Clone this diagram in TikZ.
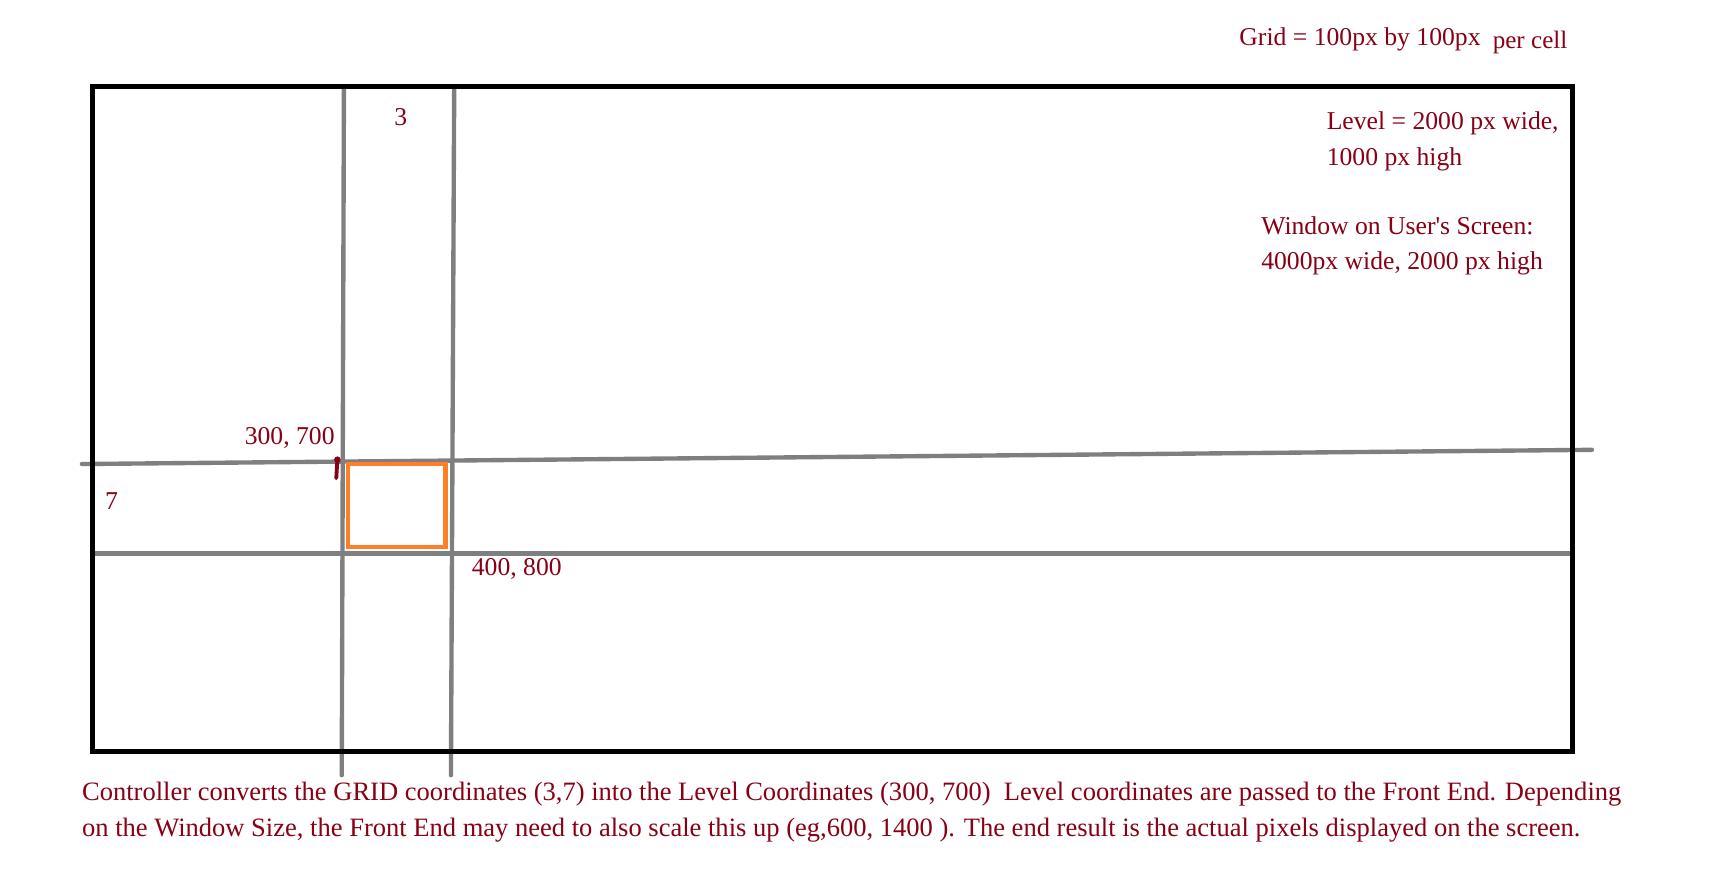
\documentclass[tikz,border=0pt]{standalone}
\usepackage{fontspec}
\setmainfont{Liberation Serif}
\newfontfamily\rawfont{Liberation Serif}
\definecolor{dred}{RGB}{136,0,21}
\definecolor{gline}{RGB}{127,127,127}
\definecolor{orng}{RGB}{255,127,39}
\begin{document}
\begin{tikzpicture}[x=1pt,y=-1pt,
  lbl/.style={text=dred, font=\rawfont\fontsize{23.5}{28}\selectfont, inner sep=0pt, anchor=base west},
  small/.style={text=dred, font=\rawfont\fontsize{23}{27}\selectfont, inner sep=0pt, anchor=base west},
  note/.style={text=dred, font=\rawfont\fontsize{24.3}{29}\selectfont, inner sep=0pt, anchor=base west},
  gridline/.style={draw=gline, line width=4pt, line cap=round},
  frame/.style={draw=black, line width=4.5pt},
  cell/.style={draw=orng, line width=4pt},
  marker/.style={draw=dred, line width=3.5pt, line cap=round}]
\useasboundingbox (0,0) rectangle (1568,799);
% grid lines
\coordinate (v1t) at (315,80);  \coordinate (v1b) at (313,710);
\coordinate (v2t) at (416,80);  \coordinate (v2b) at (413,710);
\coordinate (h1l) at (75,425);  \coordinate (h1r) at (1458,412);
\coordinate (h2l) at (87,507);  \coordinate (h2r) at (1440,507);
\draw[gridline] (v1t) -- (v1b);
\draw[gridline] (v2t) -- (v2b);
\draw[gridline] (h1l) -- (h1r);
\draw[gridline] (h2l) -- (h2r);
% level frame
\coordinate (ftl) at (85,79);
\coordinate (fbr) at (1440,688);
\draw[frame] (ftl) rectangle (fbr);
% highlighted cell
\coordinate (ctl) at (319,425);
\coordinate (cbr) at (408,501);
\draw[cell] (ctl) rectangle (cbr);
% small marker
\coordinate (m1) at (309,421);
\coordinate (m2) at (308,438);
\draw[marker] (m1) -- (m2);
\fill[dred] (m1) circle (3pt);
% labels
\node[lbl] (grid) at (1135,42) {Grid = 100px by 100px};
\node[small] (cell) at (1367,44) {per cell};
\node[lbl] (lev1) at (1215,119) {Level = 2000 px wide,};
\node[lbl] (lev2) at (1215,152) {1000 px high};
\node[lbl] (win1) at (1155,215) {Window on User's Screen:};
\node[lbl] (win2) at (1155,247) {4000px wide, 2000 px high};
\node[lbl] (three) at (361,115) {3};
\node[lbl] (seven) at (96,467) {7};
\node[lbl] (p1) at (224,407) {300, 700};
\node[lbl] (p2) at (432,527) {400, 800};
\node[note] (b1) at (75,733) {Controller converts the GRID coordinates (3,7) into the Level Coordinates (300, 700)\ \ Level coordinates are passed to the Front End. Depending};
\node[note] (b2) at (75,766) {on the Window Size, the Front End may need to also scale this up (eg,600, 1400 ). The end result is the actual pixels displayed on the screen.};
\end{tikzpicture}
\end{document}
